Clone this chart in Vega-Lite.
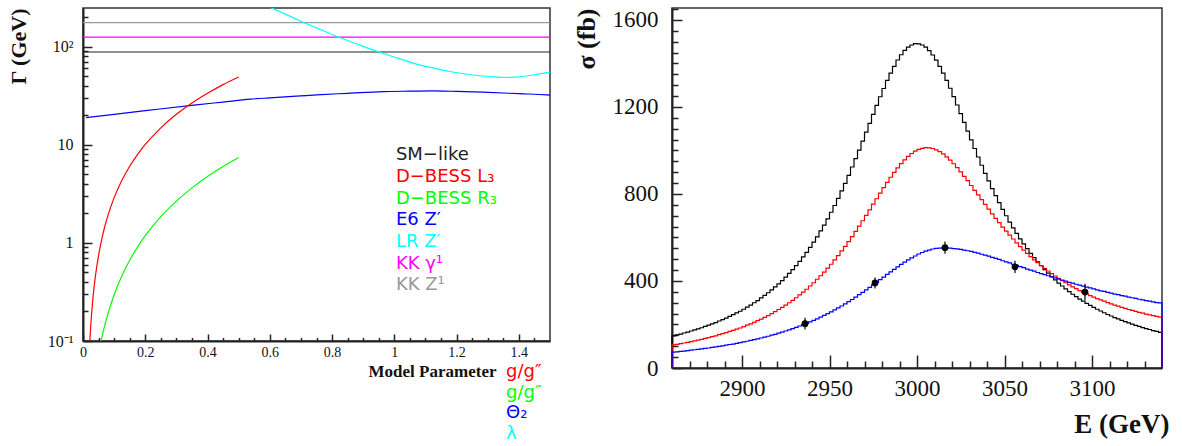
{
  "$schema": "https://vega.github.io/schema/vega-lite/v6.json",
  "background": "white",
  "padding": {"left": 6, "top": 7, "right": 5, "bottom": 0},
  "bounds": "flush",
  "spacing": 122,
  "resolve": {"scale": {"color": "independent"}},
  "config": {
    "view": {"stroke": "#333", "strokeWidth": 1.5},
    "axis": {"grid": false, "domainColor": "#222", "domainWidth": 2, "tickColor": "#222", "tickWidth": 1.5, "labelFont": "Liberation Serif", "labelColor": "#111", "titleFont": "Liberation Serif", "titleFontWeight": "bold", "titleColor": "#111", "labelFlush": false, "labelOverlap": false}
  },
  "datasets": {
    "left": [
      {"s": "SM", "x": 0, "y": 88}, {"s": "SM", "x": 1.5, "y": 88},
      {"s": "KKg", "x": 0, "y": 125}, {"s": "KKg", "x": 1.5, "y": 125},
      {"s": "KKZ", "x": 0, "y": 175}, {"s": "KKZ", "x": 1.5, "y": 175},
      {"s": "E6", "x": 0.01, "y": 18.9}, {"s": "E6", "x": 0.1, "y": 20.4}, {"s": "E6", "x": 0.2, "y": 22.2}, {"s": "E6", "x": 0.356, "y": 25.3}, {"s": "E6", "x": 0.45, "y": 27.2}, {"s": "E6", "x": 0.538, "y": 29.1}, {"s": "E6", "x": 0.6, "y": 30.0}, {"s": "E6", "x": 0.698, "y": 31.4}, {"s": "E6", "x": 0.751, "y": 32.2}, {"s": "E6", "x": 0.85, "y": 33.4}, {"s": "E6", "x": 0.964, "y": 34.8}, {"s": "E6", "x": 1.05, "y": 35.1}, {"s": "E6", "x": 1.124, "y": 35.3}, {"s": "E6", "x": 1.2, "y": 34.9}, {"s": "E6", "x": 1.284, "y": 34.3}, {"s": "E6", "x": 1.4, "y": 33.1}, {"s": "E6", "x": 1.49, "y": 32.2}, {"s": "E6", "x": 1.5, "y": 32.0},
      {"s": "LR", "x": 0.58, "y": 268}, {"s": "LR", "x": 0.65, "y": 214}, {"s": "LR", "x": 0.698, "y": 182}, {"s": "LR", "x": 0.75, "y": 155}, {"s": "LR", "x": 0.82, "y": 125}, {"s": "LR", "x": 0.88, "y": 106}, {"s": "LR", "x": 0.948, "y": 88.4}, {"s": "LR", "x": 1.0, "y": 78.2}, {"s": "LR", "x": 1.071, "y": 66.3}, {"s": "LR", "x": 1.12, "y": 61.0}, {"s": "LR", "x": 1.178, "y": 55.7}, {"s": "LR", "x": 1.23, "y": 52.5}, {"s": "LR", "x": 1.284, "y": 50.1}, {"s": "LR", "x": 1.32, "y": 49.2}, {"s": "LR", "x": 1.359, "y": 48.4}, {"s": "LR", "x": 1.39, "y": 48.8}, {"s": "LR", "x": 1.423, "y": 50.1}, {"s": "LR", "x": 1.46, "y": 52.2}, {"s": "LR", "x": 1.5, "y": 55.0},
      {"s": "L3", "x": 0.015, "y": 0.023}, {"s": "L3", "x": 0.019, "y": 0.0617}, {"s": "L3", "x": 0.022, "y": 0.0998}, {"s": "L3", "x": 0.03, "y": 0.234}, {"s": "L3", "x": 0.04, "y": 0.461}, {"s": "L3", "x": 0.05, "y": 0.745}, {"s": "L3", "x": 0.06, "y": 1.081}, {"s": "L3", "x": 0.07, "y": 1.467}, {"s": "L3", "x": 0.08, "y": 1.897}, {"s": "L3", "x": 0.1, "y": 2.887}, {"s": "L3", "x": 0.125, "y": 4.35}, {"s": "L3", "x": 0.15, "y": 6.04}, {"s": "L3", "x": 0.175, "y": 7.94}, {"s": "L3", "x": 0.2, "y": 10.05}, {"s": "L3", "x": 0.25, "y": 14.86}, {"s": "L3", "x": 0.3, "y": 20.4}, {"s": "L3", "x": 0.35, "y": 26.6}, {"s": "L3", "x": 0.4, "y": 33.4}, {"s": "L3", "x": 0.45, "y": 40.9}, {"s": "L3", "x": 0.5, "y": 48.9},
      {"s": "R3", "x": 0.05, "y": 0.074}, {"s": "R3", "x": 0.055, "y": 0.0895}, {"s": "R3", "x": 0.06, "y": 0.1066}, {"s": "R3", "x": 0.07, "y": 0.145}, {"s": "R3", "x": 0.08, "y": 0.189}, {"s": "R3", "x": 0.1, "y": 0.296}, {"s": "R3", "x": 0.125, "y": 0.4625}, {"s": "R3", "x": 0.15, "y": 0.666}, {"s": "R3", "x": 0.175, "y": 0.906}, {"s": "R3", "x": 0.2, "y": 1.184}, {"s": "R3", "x": 0.25, "y": 1.85}, {"s": "R3", "x": 0.3, "y": 2.66}, {"s": "R3", "x": 0.35, "y": 3.63}, {"s": "R3", "x": 0.4, "y": 4.74}, {"s": "R3", "x": 0.45, "y": 5.99}, {"s": "R3", "x": 0.5, "y": 7.4}
    ],
    "leftTxt": [
      {"t": "SM−like", "x": 1.005, "y": 7.9, "s": "SM"},
      {"t": "D−BESS L₃", "x": 1.005, "y": 4.66, "s": "L3"},
      {"t": "D−BESS R₃", "x": 1.005, "y": 2.77, "s": "R3"},
      {"t": "E6 Z′", "x": 1.005, "y": 1.69, "s": "E6"},
      {"t": "LR Z′", "x": 1.005, "y": 1.01, "s": "LR"},
      {"t": "KK γ¹", "x": 1.005, "y": 0.605, "s": "KKg"},
      {"t": "KK Z¹", "x": 1.005, "y": 0.37, "s": "KKZ"}
    ],
    "leftSub": [
      {"t": "g/g″", "x": 1.359, "y": 0.0485, "s": "L3"},
      {"t": "g/g″", "x": 1.359, "y": 0.0298, "s": "R3"},
      {"t": "Θ₂", "x": 1.359, "y": 0.0184, "s": "E6"},
      {"t": "λ", "x": 1.359, "y": 0.0114, "s": "LR"}
    ],
    "hist": [
      {"e": 2860, "k": 0, "r": 0, "b": 0},
      {"e": 2860, "k": 148, "r": 106, "b": 73}, {"e": 2862, "k": 152, "r": 109, "b": 74}, {"e": 2864, "k": 156, "r": 112, "b": 76}, {"e": 2866, "k": 161, "r": 115, "b": 78}, {"e": 2868, "k": 165, "r": 118, "b": 80},
      {"e": 2870, "k": 170, "r": 121, "b": 82}, {"e": 2872, "k": 175, "r": 125, "b": 84}, {"e": 2874, "k": 180, "r": 128, "b": 86}, {"e": 2876, "k": 185, "r": 132, "b": 88}, {"e": 2878, "k": 191, "r": 136, "b": 90},
      {"e": 2880, "k": 197, "r": 140, "b": 92}, {"e": 2882, "k": 203, "r": 144, "b": 95}, {"e": 2884, "k": 209, "r": 148, "b": 97}, {"e": 2886, "k": 216, "r": 153, "b": 99}, {"e": 2888, "k": 222, "r": 158, "b": 102},
      {"e": 2890, "k": 229, "r": 163, "b": 105}, {"e": 2892, "k": 237, "r": 168, "b": 108}, {"e": 2894, "k": 245, "r": 173, "b": 110}, {"e": 2896, "k": 253, "r": 179, "b": 113}, {"e": 2898, "k": 261, "r": 184, "b": 117},
      {"e": 2900, "k": 270, "r": 190, "b": 120}, {"e": 2902, "k": 280, "r": 197, "b": 123}, {"e": 2904, "k": 289, "r": 203, "b": 127}, {"e": 2906, "k": 300, "r": 210, "b": 130}, {"e": 2908, "k": 310, "r": 218, "b": 134},
      {"e": 2910, "k": 322, "r": 225, "b": 138}, {"e": 2912, "k": 334, "r": 233, "b": 142}, {"e": 2914, "k": 346, "r": 241, "b": 146}, {"e": 2916, "k": 359, "r": 250, "b": 151}, {"e": 2918, "k": 373, "r": 259, "b": 155},
      {"e": 2920, "k": 387, "r": 269, "b": 160}, {"e": 2922, "k": 402, "r": 279, "b": 165}, {"e": 2924, "k": 418, "r": 289, "b": 170}, {"e": 2926, "k": 435, "r": 300, "b": 175}, {"e": 2928, "k": 452, "r": 311, "b": 181},
      {"e": 2930, "k": 471, "r": 323, "b": 187}, {"e": 2932, "k": 490, "r": 336, "b": 193}, {"e": 2934, "k": 511, "r": 349, "b": 199}, {"e": 2936, "k": 532, "r": 362, "b": 205}, {"e": 2938, "k": 555, "r": 377, "b": 212},
      {"e": 2940, "k": 579, "r": 392, "b": 219}, {"e": 2942, "k": 603, "r": 408, "b": 226}, {"e": 2944, "k": 630, "r": 424, "b": 234}, {"e": 2946, "k": 657, "r": 441, "b": 242}, {"e": 2948, "k": 686, "r": 459, "b": 250},
      {"e": 2950, "k": 716, "r": 477, "b": 258}, {"e": 2952, "k": 747, "r": 497, "b": 267}, {"e": 2954, "k": 780, "r": 517, "b": 276}, {"e": 2956, "k": 814, "r": 538, "b": 285}, {"e": 2958, "k": 849, "r": 559, "b": 295},
      {"e": 2960, "k": 886, "r": 581, "b": 305}, {"e": 2962, "k": 924, "r": 604, "b": 315}, {"e": 2964, "k": 963, "r": 628, "b": 326}, {"e": 2966, "k": 1002, "r": 652, "b": 337}, {"e": 2968, "k": 1043, "r": 677, "b": 348},
      {"e": 2970, "k": 1084, "r": 702, "b": 359}, {"e": 2972, "k": 1125, "r": 727, "b": 371}, {"e": 2974, "k": 1166, "r": 753, "b": 382}, {"e": 2976, "k": 1207, "r": 778, "b": 394}, {"e": 2978, "k": 1247, "r": 804, "b": 406},
      {"e": 2980, "k": 1285, "r": 829, "b": 418}, {"e": 2982, "k": 1322, "r": 853, "b": 430}, {"e": 2984, "k": 1356, "r": 877, "b": 442}, {"e": 2986, "k": 1387, "r": 899, "b": 453}, {"e": 2988, "k": 1416, "r": 920, "b": 465},
      {"e": 2990, "k": 1440, "r": 940, "b": 476}, {"e": 2992, "k": 1460, "r": 957, "b": 487}, {"e": 2994, "k": 1475, "r": 973, "b": 497}, {"e": 2996, "k": 1485, "r": 986, "b": 506}, {"e": 2998, "k": 1491, "r": 997, "b": 515},
      {"e": 3000, "k": 1490, "r": 1005, "b": 524}, {"e": 3002, "k": 1485, "r": 1010, "b": 531}, {"e": 3004, "k": 1475, "r": 1013, "b": 537}, {"e": 3006, "k": 1459, "r": 1012, "b": 542}, {"e": 3008, "k": 1439, "r": 1009, "b": 547},
      {"e": 3010, "k": 1415, "r": 1003, "b": 550}, {"e": 3012, "k": 1387, "r": 995, "b": 551}, {"e": 3014, "k": 1356, "r": 984, "b": 552}, {"e": 3016, "k": 1322, "r": 971, "b": 552}, {"e": 3018, "k": 1286, "r": 956, "b": 551},
      {"e": 3020, "k": 1248, "r": 939, "b": 549}, {"e": 3022, "k": 1209, "r": 921, "b": 548}, {"e": 3024, "k": 1169, "r": 902, "b": 545}, {"e": 3026, "k": 1129, "r": 881, "b": 542}, {"e": 3028, "k": 1089, "r": 861, "b": 539},
      {"e": 3030, "k": 1049, "r": 839, "b": 536}, {"e": 3032, "k": 1009, "r": 817, "b": 532}, {"e": 3034, "k": 970, "r": 796, "b": 528}, {"e": 3036, "k": 932, "r": 774, "b": 523}, {"e": 3038, "k": 895, "r": 752, "b": 519},
      {"e": 3040, "k": 860, "r": 730, "b": 514}, {"e": 3042, "k": 825, "r": 709, "b": 509}, {"e": 3044, "k": 792, "r": 688, "b": 504}, {"e": 3046, "k": 760, "r": 668, "b": 499}, {"e": 3048, "k": 729, "r": 648, "b": 493},
      {"e": 3050, "k": 700, "r": 629, "b": 488}, {"e": 3052, "k": 671, "r": 611, "b": 483}, {"e": 3054, "k": 644, "r": 593, "b": 477}, {"e": 3056, "k": 619, "r": 575, "b": 472}, {"e": 3058, "k": 594, "r": 558, "b": 466},
      {"e": 3060, "k": 571, "r": 542, "b": 461}, {"e": 3062, "k": 549, "r": 527, "b": 455}, {"e": 3064, "k": 527, "r": 512, "b": 450}, {"e": 3066, "k": 507, "r": 497, "b": 445}, {"e": 3068, "k": 488, "r": 484, "b": 439},
      {"e": 3070, "k": 470, "r": 470, "b": 434}, {"e": 3072, "k": 452, "r": 458, "b": 429}, {"e": 3074, "k": 436, "r": 446, "b": 424}, {"e": 3076, "k": 420, "r": 434, "b": 419}, {"e": 3078, "k": 405, "r": 423, "b": 414},
      {"e": 3080, "k": 390, "r": 412, "b": 409}, {"e": 3082, "k": 377, "r": 402, "b": 404}, {"e": 3084, "k": 364, "r": 392, "b": 399}, {"e": 3086, "k": 351, "r": 382, "b": 394}, {"e": 3088, "k": 339, "r": 373, "b": 390},
      {"e": 3090, "k": 328, "r": 365, "b": 385}, {"e": 3092, "k": 317, "r": 356, "b": 381}, {"e": 3094, "k": 307, "r": 348, "b": 376}, {"e": 3096, "k": 297, "r": 341, "b": 372}, {"e": 3098, "k": 288, "r": 333, "b": 368},
      {"e": 3100, "k": 279, "r": 326, "b": 364}, {"e": 3102, "k": 270, "r": 319, "b": 359}, {"e": 3104, "k": 262, "r": 313, "b": 355}, {"e": 3106, "k": 254, "r": 307, "b": 352}, {"e": 3108, "k": 246, "r": 301, "b": 348},
      {"e": 3110, "k": 239, "r": 295, "b": 344}, {"e": 3112, "k": 232, "r": 289, "b": 340}, {"e": 3114, "k": 226, "r": 284, "b": 337}, {"e": 3116, "k": 219, "r": 279, "b": 333}, {"e": 3118, "k": 213, "r": 274, "b": 330},
      {"e": 3120, "k": 207, "r": 269, "b": 326}, {"e": 3122, "k": 202, "r": 265, "b": 323}, {"e": 3124, "k": 196, "r": 260, "b": 320}, {"e": 3126, "k": 191, "r": 256, "b": 316}, {"e": 3128, "k": 186, "r": 252, "b": 313},
      {"e": 3130, "k": 181, "r": 248, "b": 310}, {"e": 3132, "k": 177, "r": 244, "b": 307}, {"e": 3134, "k": 172, "r": 241, "b": 304}, {"e": 3136, "k": 168, "r": 237, "b": 301}, {"e": 3138, "k": 164, "r": 234, "b": 299},
      {"e": 3140, "k": 164, "r": 234, "b": 299},
      {"e": 3140, "k": 0, "r": 0, "b": 0}
    ],
    "pts": [
      {"e": 2936, "v": 204, "lo": 177, "hi": 231},
      {"e": 2976, "v": 391, "lo": 366, "hi": 416},
      {"e": 3016, "v": 553, "lo": 525, "hi": 581},
      {"e": 3056, "v": 465, "lo": 437, "hi": 493},
      {"e": 3096, "v": 349, "lo": 311, "hi": 387}
    ]
  },
  "hconcat": [
    {
      "width": 467,
      "height": 333,
      "layer": [
        {
          "data": {"name": "left"},
          "mark": {"type": "line", "clip": true, "interpolate": "monotone", "strokeWidth": 1.2},
          "encoding": {
            "x": {"field": "x", "type": "quantitative", "scale": {"domain": [0, 1.5], "nice": false, "zero": false},
              "axis": {"orient": "bottom", "values": [0, 0.2, 0.4, 0.6, 0.8, 1, 1.2, 1.4], "format": ".1~f", "tickSize": -7, "labelFont": "Liberation Serif", "labelFontSize": 14, "labelPadding": 11, "title": "Model Parameter", "titleFontSize": 17, "titleX": 413, "titleY": 35, "titleAlign": "right", "titleBaseline": "alphabetic"}},
            "y": {"field": "y", "type": "quantitative", "scale": {"type": "log", "domain": [0.1, 247], "nice": false},
              "axis": {"orient": "left", "values": [0.1, 1, 10, 100], "labelExpr": "datum.value < 0.5 ? '10⁻¹' : datum.value < 5 ? '1' : datum.value < 50 ? '10' : '10²'", "tickSize": -9, "labelFont": "Liberation Serif", "labelFontSize": 16, "labelPadding": 19, "title": "Γ (GeV)", "titleFontSize": 22, "titleAnchor": "end", "titlePadding": 17}},
            "color": {"field": "s", "type": "nominal", "scale": {"domain": ["SM", "L3", "R3", "E6", "LR", "KKg", "KKZ"], "range": ["#222222", "#ff0000", "#00ff00", "#0000ff", "#00ffff", "#ff00ff", "#999999"]}, "legend": null}
          }
        },
        {
          "data": {"name": "leftTxt"},
          "mark": {"type": "text", "align": "left", "baseline": "middle", "font": "DejaVu Sans", "fontSize": 18},
          "encoding": {
            "x": {"field": "x", "type": "quantitative", "scale": {"domain": [0, 1.5], "nice": false, "zero": false}, "axis": null},
            "y": {"field": "y", "type": "quantitative", "scale": {"type": "log", "domain": [0.1, 247], "nice": false}, "axis": null},
            "text": {"field": "t"},
            "color": {"field": "s", "type": "nominal", "legend": null}
          }
        },
        {
          "data": {"name": "leftSub"},
          "mark": {"type": "text", "align": "left", "baseline": "middle", "font": "DejaVu Sans", "fontSize": 18},
          "encoding": {
            "x": {"field": "x", "type": "quantitative", "scale": {"domain": [0, 1.5], "nice": false, "zero": false}, "axis": null},
            "y": {"field": "y", "type": "quantitative", "scale": {"type": "log", "domain": [0.1, 247], "nice": false}, "axis": null},
            "text": {"field": "t"},
            "color": {"field": "s", "type": "nominal", "legend": null}
          }
        },
        {
          "data": {"name": "left"},
          "mark": {"type": "point", "opacity": 0, "clip": true},
          "encoding": {
            "x": {"field": "x", "type": "quantitative", "scale": {"domain": [0, 1.5], "nice": false, "zero": false},
              "axis": {"orient": "bottom", "values": [0.05, 0.1, 0.15, 0.25, 0.3, 0.35, 0.45, 0.5, 0.55, 0.65, 0.7, 0.75, 0.85, 0.9, 0.95, 1.05, 1.1, 1.15, 1.25, 1.3, 1.35, 1.45], "tickSize": -3.5, "labels": false, "domain": false, "title": null}},
            "y": {"field": "y", "type": "quantitative", "scale": {"type": "log", "domain": [0.1, 247], "nice": false},
              "axis": {"orient": "left", "values": [0.2, 0.3, 0.4, 0.5, 0.6, 0.7, 0.8, 0.9, 2, 3, 4, 5, 6, 7, 8, 9, 20, 30, 40, 50, 60, 70, 80, 90, 200], "tickSize": -5, "labels": false, "domain": false, "title": null}}
          }
        }
      ],
      "resolve": {"axis": {"x": "independent", "y": "independent"}}
    },
    {
      "width": 490,
      "height": 360,
      "layer": [
        {
          "data": {"name": "hist"},
          "transform": [{"fold": ["k", "r", "b"], "as": ["s", "v"]}],
          "mark": {"type": "line", "interpolate": "step-after", "strokeWidth": 1.2},
          "encoding": {
            "x": {"field": "e", "type": "quantitative", "scale": {"domain": [2860, 3140], "nice": false, "zero": false},
              "axis": {"orient": "bottom", "values": [2900, 2950, 3000, 3050, 3100], "format": "d", "tickSize": -13, "labelFont": "Liberation Serif", "labelFontSize": 23, "labelPadding": 22, "title": "E (GeV)", "titleFontSize": 27, "titleX": 497, "titleY": 64, "titleAlign": "right", "titleBaseline": "alphabetic"}},
            "y": {"field": "v", "type": "quantitative", "scale": {"domain": [0, 1655], "nice": false},
              "axis": {"orient": "left", "values": [0, 400, 800, 1200, 1600], "format": "d", "tickSize": -10, "labelFont": "Liberation Serif", "labelFontSize": 23, "labelPadding": 24, "title": "σ (fb)", "titleFontSize": 26, "titleAnchor": "end", "titlePadding": 13}},
            "color": {"field": "s", "type": "nominal", "scale": {"domain": ["k", "r", "b"], "range": ["#000000", "#ff0000", "#0000ff"]}, "legend": null},
            "order": {"value": null}
          }
        },
        {
          "data": {"name": "pts"},
          "mark": {"type": "rule", "color": "#000", "strokeWidth": 1.2},
          "encoding": {
            "x": {"field": "e", "type": "quantitative", "scale": {"domain": [2860, 3140], "nice": false, "zero": false}, "axis": null},
            "y": {"field": "lo", "type": "quantitative", "scale": {"domain": [0, 1655], "nice": false}, "axis": null},
            "y2": {"field": "hi"}
          }
        },
        {
          "data": {"name": "pts"},
          "mark": {"type": "point", "filled": true, "color": "#000", "size": 45, "opacity": 1},
          "encoding": {
            "x": {"field": "e", "type": "quantitative", "scale": {"domain": [2860, 3140], "nice": false, "zero": false},
              "axis": {"orient": "bottom", "values": [2870, 2880, 2890, 2910, 2920, 2930, 2940, 2960, 2970, 2980, 2990, 3010, 3020, 3030, 3040, 3060, 3070, 3080, 3090, 3110, 3120, 3130], "tickSize": -7, "labels": false, "domain": false, "title": null}},
            "y": {"field": "v", "type": "quantitative", "scale": {"domain": [0, 1655], "nice": false},
              "axis": {"orient": "left", "values": [50, 100, 150, 200, 250, 300, 350, 450, 500, 550, 600, 650, 700, 750, 850, 900, 950, 1000, 1050, 1100, 1150, 1250, 1300, 1350, 1400, 1450, 1500, 1550, 1650], "tickSize": -6, "labels": false, "domain": false, "title": null}}
          }
        }
      ],
      "resolve": {"axis": {"x": "independent", "y": "independent"}}
    }
  ]
}
